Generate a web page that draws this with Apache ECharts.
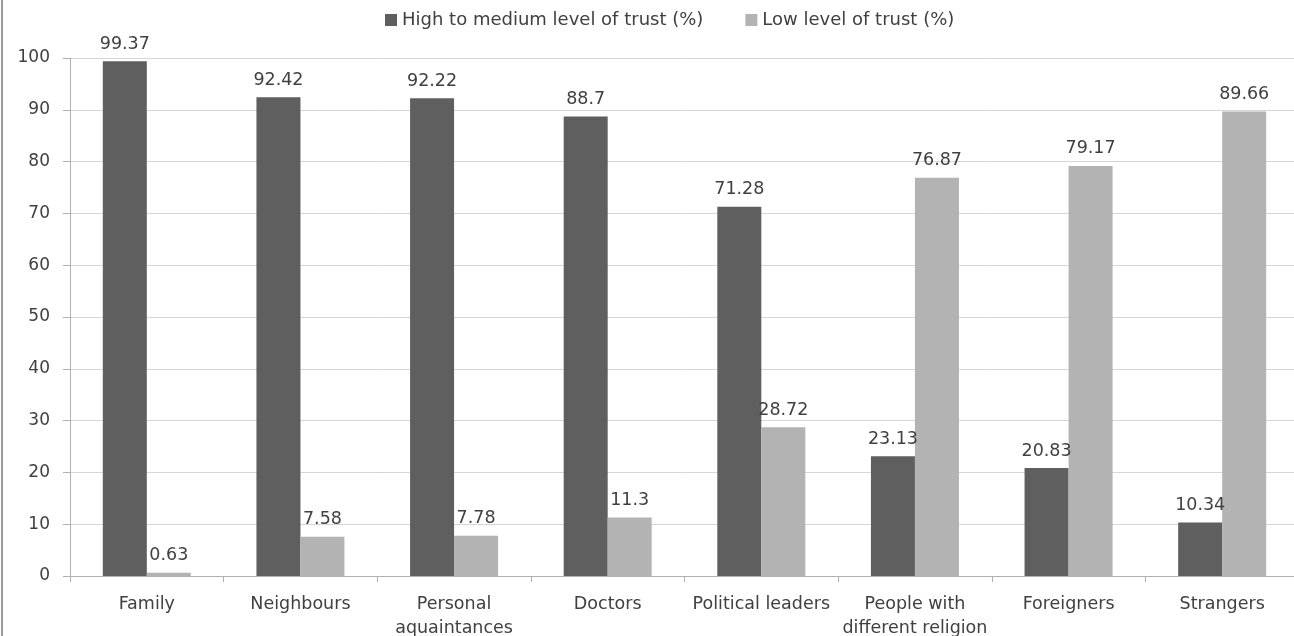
<!DOCTYPE html>
<html>
<head>
<meta charset="utf-8">
<title>Level of trust</title>
<script src="https://cdn.jsdelivr.net/npm/echarts@6/dist/echarts.min.js"></script>
<style>
  html, body { margin: 0; padding: 0; background: #ffffff; }
  #chart { width: 1294px; height: 636px; }
</style>
</head>
<body>
<div id="chart"></div>
<script>
// Groups of people asked about
const categories = [
  'Family', 'Neighbours', 'Personal\naquaintances', 'Doctors',
  'Political leaders', 'People with\ndifferent religion', 'Foreigners', 'Strangers'
];
// Share of respondents (%) per trust level
const highMediumTrust = [99.37, 92.42, 92.22, 88.7, 71.28, 23.13, 20.83, 10.34];
const lowTrust = [0.63, 7.58, 7.78, 11.3, 28.72, 76.87, 79.17, 89.66];
const seriesNames = ['High to medium level of trust (%)', 'Low level of trust (%)'];

const FONT = 'DejaVu Sans';
const TEXT = '#404040';

const chart = echarts.init(document.getElementById('chart'), null, { renderer: 'canvas' });

const labelStyle = {
  show: true,
  position: 'top',
  distance: 8,
  color: TEXT,
  fontFamily: FONT,
  fontSize: 17.5
};

chart.setOption({
  animation: false,
  backgroundColor: '#ffffff',
  textStyle: { fontFamily: FONT },
  graphic: [{
    type: 'line',
    shape: { x1: 2, y1: 0, x2: 2, y2: 636 },
    style: { stroke: '#9a9a9a', lineWidth: 2 }
  }],
  legend: {
    left: 380,
    top: 6,
    itemWidth: 12,
    itemHeight: 12,
    itemGap: 42,
    icon: 'rect',
    textStyle: { color: TEXT, fontFamily: FONT, fontSize: 18 },
    data: seriesNames
  },
  grid: { left: 70, top: 58, width: 1229, bottom: 60, outerBoundsMode: 'none', containLabel: false },
  xAxis: {
    type: 'category',
    data: categories,
    axisLine: { lineStyle: { color: '#b0b0b0', width: 1 } },
    axisTick: { show: true, length: 6, lineStyle: { color: '#b0b0b0' } },
    axisLabel: {
      interval: 0,
      margin: 16,
      color: TEXT,
      fontFamily: FONT,
      fontSize: 17.5,
      lineHeight: 24
    }
  },
  yAxis: {
    type: 'value',
    min: 0,
    max: 100,
    interval: 10,
    axisLine: { show: true, lineStyle: { color: '#b0b0b0', width: 1 } },
    axisTick: { show: true, length: 7, lineStyle: { color: '#b0b0b0' } },
    splitLine: { lineStyle: { color: '#d6d6d6', width: 1 } },
    axisLabel: {
      margin: 20,
      color: TEXT,
      fontFamily: FONT,
      fontSize: 17
    }
  },
  series: [
    {
      name: seriesNames[0],
      type: 'bar',
      data: highMediumTrust,
      barWidth: 44,
      barGap: '0%',
      itemStyle: { color: '#5f5f5f' },
      label: labelStyle
    },
    {
      name: seriesNames[1],
      type: 'bar',
      data: lowTrust,
      barWidth: 44,
      itemStyle: { color: '#b3b3b3' },
      label: labelStyle
    }
  ]
});
</script>
</body>
</html>
